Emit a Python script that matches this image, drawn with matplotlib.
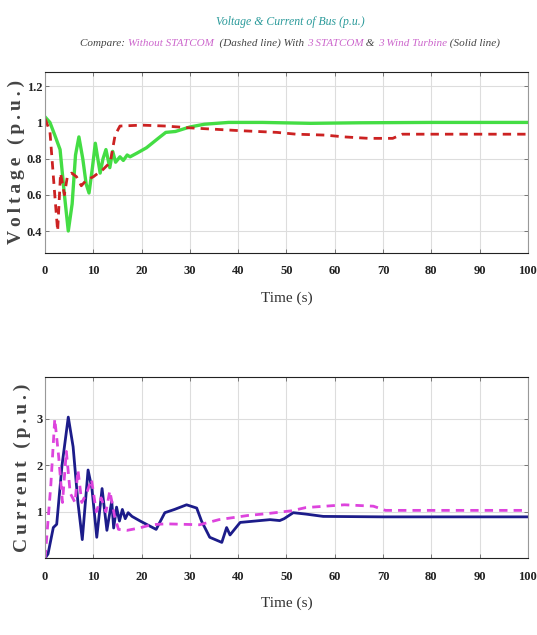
import matplotlib
matplotlib.use('Agg')
import matplotlib.pyplot as plt

# voltage of bus, with 3 STATCOM & 3 wind turbine (solid) and without STATCOM (dashed)
t_v_with = [0, 1.0, 2.0, 3.1, 4.0, 4.8, 5.6, 6.3, 7.0, 7.8, 8.5, 9.1, 9.8, 10.4, 11.4, 12.0, 12.6, 13.4,
            14.0, 14.6, 15.5, 16.2, 17.0, 17.6, 19.0, 21.0, 23.8, 25.0, 27.0, 30.0, 33.0, 38.0, 45.0, 55.0,
            65.0, 80.0, 100.0]
v_with = [1.03, 1.0, 0.93, 0.85, 0.6, 0.40, 0.55, 0.82, 0.92, 0.8, 0.66, 0.61, 0.75, 0.885, 0.72, 0.8, 0.85,
          0.75, 0.84, 0.78, 0.81, 0.79, 0.82, 0.81, 0.83, 0.86, 0.92, 0.945, 0.95, 0.975, 0.99, 1.0, 1.0, 0.995,
          0.998, 1.0, 1.0]

t_v_without = [0, 1.0, 2.0, 2.6, 3.2, 4.0, 4.6, 5.5, 6.5, 7.5, 8.5, 10.0, 12.0, 13.5, 14.5, 15.5, 20.0,
               25.0, 30.0, 40.0, 48.0, 52.0, 58.0, 62.0, 67.0, 72.0, 74.0, 100.0]
v_without = [1.02, 0.95, 0.6, 0.40, 0.72, 0.6, 0.7, 0.72, 0.7, 0.65, 0.68, 0.7, 0.74, 0.78, 0.93, 0.98, 0.985,
             0.98, 0.97, 0.955, 0.945, 0.935, 0.93, 0.92, 0.912, 0.912, 0.935, 0.935]

# current of bus
t_i_with = [0, 0.6, 1.7, 2.4, 3.5, 4.8, 5.8, 6.8, 7.7, 8.9, 9.7, 10.7, 11.8, 12.8, 13.8, 14.2, 14.8, 15.4,
            16.0, 16.6, 17.2, 18.0, 19.7, 23.0, 24.8, 26.8, 29.3, 31.4, 32.4, 34.1, 36.6, 37.6, 38.3, 40.4,
            44.5, 46.6, 48.6, 49.5, 51.4, 54.0, 57.6, 70.0, 100.0]
i_with = [0.0, 0.09, 0.66, 0.73, 2.0, 3.04, 2.4, 1.2, 0.4, 1.9, 1.5, 0.45, 1.5, 0.6, 1.23, 0.65, 1.1, 0.8,
          1.05, 0.85, 0.98, 0.9, 0.8, 0.62, 0.98, 1.05, 1.15, 1.08, 0.8, 0.45, 0.34, 0.66, 0.5, 0.77,
          0.81, 0.83, 0.81, 0.85, 0.98, 0.95, 0.9, 0.89, 0.89]

t_i_without = [0, 1.2, 2.0, 2.8, 3.6, 4.4, 5.2, 6.2, 6.8, 7.6, 8.6, 9.6, 10.6, 11.6, 12.6, 13.4, 14.4, 15.2,
               17.0, 19.5, 22.0, 25.0, 32.0, 36.0, 42.0, 46.0, 51.0, 54.0, 58.0, 62.0, 68.0, 70.5, 100.0]
i_without = [0.0, 1.6, 3.0, 2.2, 1.2, 2.3, 1.4, 1.2, 1.9, 1.2, 1.4, 1.7, 1.0, 1.3, 1.0, 1.45, 0.9, 0.62,
             0.6, 0.65, 0.72, 0.74, 0.72, 0.83, 0.92, 0.96, 1.02, 1.09, 1.12, 1.15, 1.12, 1.03, 1.03]

x_ticks = [0, 10, 20, 30, 40, 50, 60, 70, 80, 90, 100]
v_ticks = [0.4, 0.6, 0.8, 1.0, 1.2]
v_tick_labels = ['0.4', '0.6', '0.8', '1', '1.2']
i_ticks = [1, 2, 3]

plt.rcParams['font.family'] = 'Liberation Serif'

fig = plt.figure(figsize=(5.37, 6.35), dpi=100)
ax1 = fig.add_axes([0.084, 0.602, 0.899, 0.285])
ax2 = fig.add_axes([0.084, 0.121, 0.899, 0.285])


def spaced(s):
    # wide letter spacing like the original axis labels
    return '\u2009'.join(list(s))


def style_axes(ax):
    ax.grid(True, color='#dddddd', linewidth=0.8)
    ax.set_axisbelow(True)
    ax.tick_params(direction='in', top=True, right=True, length=3, width=0.6, color='#666666',
                   labelsize=9)
    ax.tick_params(axis='x', pad=9)
    ax.tick_params(axis='y', pad=2)
    for lab in ax.get_xticklabels() + ax.get_yticklabels():
        lab.set_fontweight('bold')
        lab.set_color('#222222')
    ax.spines['top'].set_color('#222222')
    ax.spines['bottom'].set_color('#222222')
    ax.spines['left'].set_color('#999999')
    ax.spines['right'].set_color('#999999')
    ax.set_xlim(0, 100)
    ax.set_xticks(x_ticks)
    ax.set_xlabel('Time (s)', fontsize=11, color='#333333', labelpad=10)


ax1.plot(t_v_with, v_with, color='#44dd44', lw=2.4)
ax1.plot(t_v_without, v_without, color='#cc2222', lw=2.0, ls=(0, (3, 2.2)))
ax1.set_ylim(0.28, 1.28)
ax1.set_yticks(v_ticks)
ax1.set_yticklabels(v_tick_labels)
style_axes(ax1)
ax1.set_ylabel(spaced('Voltage (p.u.)'), fontsize=14, fontweight='bold', color='#444444', labelpad=1)

ax2.plot(t_i_with, i_with, color='#1c1c8a', lw=2.0)
ax2.plot(t_i_without, i_without, color='#dd44dd', lw=2.0, ls=(0, (3, 2.2)))
ax2.set_ylim(0, 3.9)
ax2.set_yticks(i_ticks)
style_axes(ax2)
ax2.set_ylabel(spaced('Current (p.u.)'), fontsize=14, fontweight='bold', color='#444444', labelpad=4)

# titles
fig.text(0.54, 0.966, 'Voltage & Current of Bus (p.u.)', ha='center', va='center',
         fontsize=8.5, style='italic', color='#2a9a9a')

parts = [('Compare: ', '#444444'), ('Without STATCOM', '#cc66cc'), ('  (Dashed line) With ', '#444444'),
         ('3 STATCOM', '#cc66cc'), (' & ', '#444444'), ('3 Wind Turbine', '#cc66cc'),
         (' (Solid line)', '#444444')]

fig.canvas.draw()
renderer = fig.canvas.get_renderer()
pieces = []
x = 0.0
for txt, col in parts:
    t = fig.text(x / fig.bbox.width, 0.932, txt, ha='left', va='center', fontsize=8, style='italic',
                 color=col)
    x = t.get_window_extent(renderer).x1
    pieces.append(t)
# center the whole line over the plots
total = x
shift = 0.54 * fig.bbox.width - total / 2
for t in pieces:
    px, py = t.get_position()
    t.set_position((px + shift / fig.bbox.width, py))

fig.savefig('out.png', dpi=100)
